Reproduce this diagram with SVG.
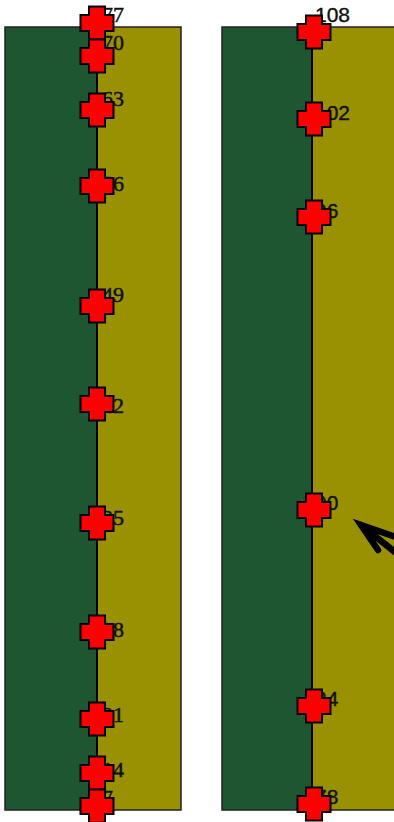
<svg xmlns="http://www.w3.org/2000/svg" xmlns:xlink="http://www.w3.org/1999/xlink" width="394" height="822" viewBox="0 0 394 822">
<style>
.dark{fill:#1d5631;stroke:#222;stroke-width:1.5}
.olive{fill:#9a9102;stroke:#222;stroke-width:1.5}
.div{stroke:#000;stroke-width:2}
.ls{font-family:"Liberation Serif",serif;font-size:22px;fill:#111;stroke:#111;stroke-width:0.5}
.rs{font-family:"Liberation Sans",sans-serif;font-size:21px;fill:#111;stroke:#111;stroke-width:0.4}
.cr{fill:#ff0000;stroke:#000;stroke-width:2;stroke-linejoin:miter}
.arr{fill:none;stroke:#000;stroke-width:6.5;stroke-linecap:round;stroke-linejoin:miter}
</style>
<defs>
<path id="cross" d="M-8,-16.5H8V-8H16.5V8H8V16.5H-8V8H-16.5V-8H-8Z"/>
</defs>
<g id="panel-left">
<rect class="dark" x="5" y="27" width="92" height="783"/>
<rect class="olive" x="97" y="27" width="84" height="783"/>
<line class="div" x1="97" y1="27" x2="97" y2="810"/>
</g>
<g id="panel-right">
<rect class="dark" x="222" y="27" width="90" height="783"/>
<rect class="olive" x="312" y="27" width="90" height="783"/>
<line class="div" x1="312" y1="27" x2="312" y2="810"/>
</g>
<g id="labels-left" class="ls">
<text x="102" y="22">77</text>
<text x="102" y="50">70</text>
<text x="102" y="106">63</text>
<text x="102" y="191">56</text>
<text x="102" y="302">49</text>
<text x="102" y="413">42</text>
<text x="102" y="525">35</text>
<text x="102" y="637">28</text>
<text x="102" y="722">21</text>
<text x="102" y="777">14</text>
<text x="102" y="805">7</text>
</g>
<g id="labels-right" class="rs">
<text x="315" y="22">108</text>
<text x="315" y="120">102</text>
<text x="315" y="218">96</text>
<text x="315" y="510">90</text>
<text x="315" y="706">84</text>
<text x="315" y="804">78</text>
</g>
<g id="p77"><use xlink:href="#cross" class="cr" x="97" y="23"/></g>
<g id="p70"><use xlink:href="#cross" class="cr" x="97" y="56"/></g>
<g id="p63"><use xlink:href="#cross" class="cr" x="97" y="110"/></g>
<g id="p56"><use xlink:href="#cross" class="cr" x="97" y="186"/></g>
<g id="p49"><use xlink:href="#cross" class="cr" x="97" y="306"/></g>
<g id="p42"><use xlink:href="#cross" class="cr" x="97" y="404"/></g>
<g id="p35"><use xlink:href="#cross" class="cr" x="97" y="523"/></g>
<g id="p28"><use xlink:href="#cross" class="cr" x="97" y="632"/></g>
<g id="p21"><use xlink:href="#cross" class="cr" x="97" y="719"/></g>
<g id="p14"><use xlink:href="#cross" class="cr" x="97" y="773"/></g>
<g id="p7"><use xlink:href="#cross" class="cr" x="97" y="806"/></g>
<g id="p108"><use xlink:href="#cross" class="cr" x="314" y="32"/></g>
<g id="p102"><use xlink:href="#cross" class="cr" x="314" y="119"/></g>
<g id="p96"><use xlink:href="#cross" class="cr" x="314" y="217"/></g>
<g id="p90"><use xlink:href="#cross" class="cr" x="314" y="510"/></g>
<g id="p84"><use xlink:href="#cross" class="cr" x="314" y="706"/></g>
<g id="p78"><use xlink:href="#cross" class="cr" x="314" y="804"/></g>
<g id="connectors">
<path class="arr" d="M396,537L361,525L378,550M361,525L400,556"/>
</g>
</svg>
